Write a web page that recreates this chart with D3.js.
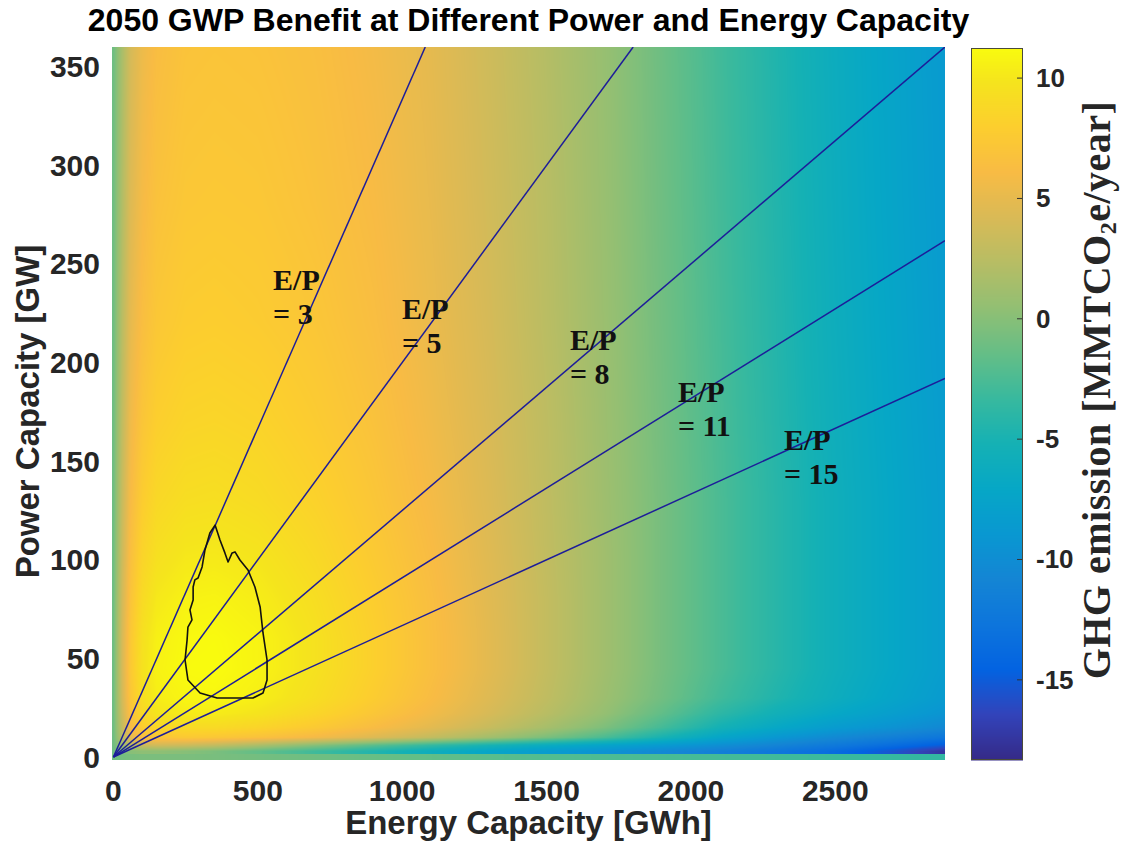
<!DOCTYPE html>
<html>
<head>
<meta charset="utf-8">
<script src="https://cdn.jsdelivr.net/npm/d3@7"></script>
<style>
  body { margin: 0; background: #fff; }
  svg { display: block; }
</style>
</head>
<body>
<svg id="chart" width="1127" height="848"></svg>
<script>
// ---- data ---------------------------------------------------------------
// Grid of energy capacities (GWh) and power capacities (GW)
const energyGrid = [0, 30, 60, 100, 150, 250, 350, 500, 700, 900, 1100, 1300, 1500, 1700, 1900, 2100, 2300, 2500, 2700, 2880];
const powerGrid = [0, 3, 6, 10, 15, 22, 30, 45, 60, 80, 100, 130, 170, 220, 280, 360];

// GHG emission benefit (MMTCO2e/year), one row per power capacity
const ghgRows = [
  [-1.0,-0.8,-0.6,-0.5,-0.5,-0.5,-0.6,-0.8,-1.0,-1.3,-1.6,-1.9,-2.2,-2.4,-2.6,-2.8,-3.0,-3.2,-3.4,-3.6],
  [-1.0,-0.5, 0.0, 0.3, 0.3, 0.0,-0.5,-1.5,-3.0,-4.5,-6.0,-7.3,-8.5,-9.5,-10.5,-11.5,-12.5,-13.7,-15.5,-17.5],
  [-1.0, 1.0, 2.5, 3.5, 3.8, 3.5, 3.0, 1.8, 0.0,-1.8,-3.5,-5.0,-6.3,-7.5,-8.6,-9.8,-11.0,-12.2,-13.5,-15.0],
  [-1.0, 2.5, 5.0, 6.5, 7.2, 7.5, 7.3, 6.8, 5.8, 4.5, 3.0, 1.3,-0.5,-2.5,-5.0,-7.3,-9.0,-10.4,-11.5,-12.5],
  [-1.0, 3.0, 6.0, 7.8, 8.6, 9.0, 9.0, 8.5, 7.5, 6.2, 4.8, 3.2, 1.5,-0.4,-2.8,-5.3,-7.0,-8.5,-9.5,-10.5],
  [-1.0, 3.5, 6.8, 8.8, 9.8,10.3,10.3, 9.8, 8.6, 7.2, 5.7, 4.1, 2.4, 0.6,-1.6,-3.9,-5.6,-7.0,-8.2,-9.3],
  [-1.0, 3.8, 7.2, 9.3,10.4,10.9,11.0,10.5, 9.3, 7.8, 6.2, 4.5, 2.8, 1.0,-0.9,-2.9,-4.6,-6.1,-7.4,-8.6],
  [-1.0, 4.0, 7.5, 9.6,10.7,11.2,11.3,10.8, 9.6, 8.1, 6.5, 4.8, 3.0, 1.2,-0.7,-2.5,-4.2,-5.8,-7.1,-8.3],
  [-1.0, 4.0, 7.4, 9.5,10.6,11.1,11.2,10.8, 9.6, 8.1, 6.5, 4.8, 3.0, 1.2,-0.7,-2.5,-4.2,-5.8,-7.1,-8.3],
  [-1.0, 3.8, 7.0, 9.0,10.1,10.7,10.8,10.4, 9.3, 7.9, 6.4, 4.7, 3.0, 1.2,-0.7,-2.5,-4.2,-5.8,-7.1,-8.3],
  [-1.0, 3.5, 6.6, 8.5, 9.5,10.1,10.2, 9.9, 8.9, 7.6, 6.2, 4.6, 2.9, 1.2,-0.7,-2.5,-4.2,-5.8,-7.1,-8.3],
  [-1.0, 3.2, 6.1, 7.8, 8.8, 9.3, 9.4, 9.1, 8.3, 7.2, 5.9, 4.4, 2.8, 1.1,-0.7,-2.5,-4.2,-5.8,-7.1,-8.3],
  [-1.0, 2.8, 5.6, 7.1, 8.0, 8.5, 8.6, 8.4, 7.7, 6.8, 5.6, 4.2, 2.7, 1.0,-0.8,-2.6,-4.3,-5.9,-7.2,-8.4],
  [-1.0, 2.4, 5.0, 6.4, 7.3, 7.8, 7.9, 7.7, 7.2, 6.4, 5.3, 4.0, 2.5, 0.9,-0.9,-2.7,-4.4,-6.0,-7.3,-8.5],
  [-1.0, 2.0, 4.5, 5.9, 6.8, 7.3, 7.4, 7.3, 6.8, 6.1, 5.1, 3.8, 2.4, 0.8,-1.0,-2.8,-4.5,-6.1,-7.4,-8.6],
  [-1.0, 1.6, 4.0, 5.4, 6.3, 6.9, 7.0, 6.9, 6.5, 5.8, 4.9, 3.6, 2.2, 0.7,-1.1,-2.9,-4.6,-6.2,-7.5,-8.7]
];

// Energy-to-power ratios drawn as rays from the origin
const ratioValues = [3, 5, 8, 11, 15];

// Boundary of the best-benefit region
const outlineEnergy = [352, 369, 386, 397, 411, 421, 438, 466, 490, 508, 518, 532, 532, 518, 483, 428, 359, 300, 258, 248, 255, 258, 272, 265, 276, 276, 282, 293, 307, 317, 334];
const outlinePower = [117.6, 110, 103.5, 98.9, 103.5, 104, 99.9, 94.8, 86.2, 76.1, 62.9, 49.2, 39.1, 32.5, 29.9, 29.9, 29.9, 32.5, 39.1, 49.2, 59.3, 65.9, 69.5, 74.6, 79.6, 86.2, 89.8, 90.8, 96.4, 105, 113.6];

const xTickValues = [0, 500, 1000, 1500, 2000, 2500];
const yTickValues = [0, 50, 100, 150, 200, 250, 300, 350];
const colorTickValues = [-15, -10, -5, 0, 5, 10];

const energyDomain = [-5, 2880];
const powerDomain = [-1.5, 360];
const colorDomain = [-18.33, 11.25];

// ---- layout ---------------------------------------------------------------
const plot = { left: 112, right: 945, top: 47, bottom: 760 };
const bar = { left: 971, right: 1023, top: 48, bottom: 760 };
// where each E/P caption sits (energy, power of the first text line's baseline)
const labelAt = [[553, 236.8], [999, 222.1], [1581, 206.4], [1955, 180], [2322, 155.7]];

const sansFont = "'Liberation Sans', Arial, Helvetica, sans-serif";
const serifFont = "'Liberation Serif', 'Times New Roman', serif";
const textColor = "#262626";

// Parula colour ramp
const parulaStops = ["#352a87", "#3243ba", "#0363e1", "#0d75dc", "#1485d4", "#0998d1", "#06a7c6", "#15b1b4",
  "#38b99e", "#65be86", "#92bf73", "#b7bd64", "#d9ba56", "#f8bb44", "#fcce2e", "#f5e41d", "#f9fb0e"];
const parulaPos = [0, 4, 8, 12, 16, 20, 24, 28, 32, 36, 40, 44, 48, 52, 56, 60, 63].map(i => i / 63);

const x = d3.scaleLinear().domain(energyDomain).range([plot.left, plot.right]);
const y = d3.scaleLinear().domain(powerDomain).range([plot.bottom, plot.top]);
const cy = d3.scaleLinear().domain(colorDomain).range([bar.bottom, bar.top]);
const color = d3.scaleLinear()
  .domain(parulaPos.map(t => colorDomain[0] + t * (colorDomain[1] - colorDomain[0])))
  .range(parulaStops)
  .interpolate(d3.interpolateRgb)
  .clamp(true);

const svg = d3.select("#chart");

// ---- heat map ---------------------------------------------------------------
function locate(grid, v) {
  if (v <= grid[0]) return [0, 0];
  const n = grid.length;
  if (v >= grid[n - 1]) return [n - 2, 1];
  const i = d3.bisectRight(grid, v) - 1;
  return [i, (v - grid[i]) / (grid[i + 1] - grid[i])];
}
function rowValue(row, e) {
  const [i, t] = locate(energyGrid, e);
  return row[i] * (1 - t) + row[i + 1] * t;
}
const upperPower = powerGrid.slice(1);
const upperRows = ghgRows.slice(1);
function ghgAt(e, p) {
  // the zero-power row is one flat cell of half-step height on either side of 0
  if (p < (powerGrid[1] - powerGrid[0]) / 2) return rowValue(ghgRows[0], e);
  const [j, t] = locate(upperPower, p);
  return rowValue(upperRows[j], e) * (1 - t) + rowValue(upperRows[j + 1], e) * t;
}

const lutSize = 1024;
const lut = d3.range(lutSize).map(k => d3.rgb(color(colorDomain[0] + (k / (lutSize - 1)) * (colorDomain[1] - colorDomain[0]))));
function lutColor(v) {
  let k = Math.round((v - colorDomain[0]) / (colorDomain[1] - colorDomain[0]) * (lutSize - 1));
  return lut[Math.max(0, Math.min(lutSize - 1, k))];
}

const W = plot.right - plot.left, H = plot.bottom - plot.top;
const canvas = document.createElement("canvas");
canvas.width = W; canvas.height = H;
const ctx = canvas.getContext("2d");
const img = ctx.createImageData(W, H);
for (let r = 0; r < H; r++) {
  const p = y.invert(plot.top + r + 0.5);
  for (let c = 0; c < W; c++) {
    const e = x.invert(plot.left + c + 0.5);
    const col = lutColor(ghgAt(e, p));
    const o = (r * W + c) * 4;
    img.data[o] = col.r; img.data[o + 1] = col.g; img.data[o + 2] = col.b; img.data[o + 3] = 255;
  }
}
ctx.putImageData(img, 0, 0);
svg.append("image")
  .attr("x", plot.left).attr("y", plot.top)
  .attr("width", W).attr("height", H)
  .attr("preserveAspectRatio", "none")
  .attr("href", canvas.toDataURL());

// ---- rays and outline -------------------------------------------------------
svg.append("clipPath").attr("id", "plotClip")
  .append("rect").attr("x", plot.left).attr("y", plot.top).attr("width", W).attr("height", H);

const line = d3.line().x(d => x(d[0])).y(d => y(d[1]));
const gLines = svg.append("g").attr("clip-path", "url(#plotClip)");
ratioValues.forEach(r => {
  const eEnd = Math.min(energyDomain[1], powerDomain[1] * r);
  gLines.append("path")
    .attr("d", line([[0, 0], [eEnd, eEnd / r]]))
    .attr("fill", "none")
    .attr("stroke", "#1d1d99")
    .attr("stroke-width", 1.5);
});

const outlinePts = outlineEnergy.map((e, i) => [e, outlinePower[i]]);
gLines.append("path")
  .attr("d", line(outlinePts) + "Z")
  .attr("fill", "none")
  .attr("stroke", "#111")
  .attr("stroke-width", 1.6)
  .attr("stroke-linejoin", "round");

// E/P captions
ratioValues.forEach((r, i) => {
  const t = svg.append("text")
    .attr("x", x(labelAt[i][0])).attr("y", y(labelAt[i][1]))
    .attr("font-family", serifFont).attr("font-weight", "bold")
    .attr("font-size", 30).attr("fill", "#111");
  t.append("tspan").attr("x", x(labelAt[i][0])).text("E/P");
  t.append("tspan").attr("x", x(labelAt[i][0])).attr("dy", 34).text("= " + r);
});

// ---- axes ---------------------------------------------------------------
svg.append("g").selectAll("text").data(xTickValues).join("text")
  .attr("x", d => x(d)).attr("y", 801)
  .attr("text-anchor", "middle")
  .attr("font-family", sansFont).attr("font-weight", "bold").attr("font-size", 30)
  .attr("fill", textColor)
  .text(d => d);

svg.append("g").selectAll("text").data(yTickValues).join("text")
  .attr("x", 100).attr("y", d => y(d) + 10.5)
  .attr("text-anchor", "end")
  .attr("font-family", sansFont).attr("font-weight", "bold").attr("font-size", 30)
  .attr("fill", textColor)
  .text(d => d);

svg.append("text")
  .attr("x", (plot.left + plot.right) / 2).attr("y", 834)
  .attr("text-anchor", "middle")
  .attr("font-family", sansFont).attr("font-weight", "bold").attr("font-size", 33)
  .attr("fill", textColor)
  .text("Energy Capacity [GWh]");

svg.append("text")
  .attr("transform", `translate(39,${(plot.top + plot.bottom) / 2 + 8}) rotate(-90)`)
  .attr("text-anchor", "middle")
  .attr("font-family", sansFont).attr("font-weight", "bold").attr("font-size", 33)
  .attr("fill", textColor)
  .text("Power Capacity [GW]");

svg.append("text")
  .attr("x", (plot.left + plot.right) / 2).attr("y", 31)
  .attr("text-anchor", "middle")
  .attr("font-family", sansFont).attr("font-weight", "bold").attr("font-size", 32)
  .attr("fill", "#000")
  .text("2050 GWP Benefit at Different Power and Energy Capacity");

// ---- colour bar ---------------------------------------------------------------
const barSteps = d3.range(bar.top, bar.bottom, 1);
svg.append("g").selectAll("rect").data(barSteps).join("rect")
  .attr("x", bar.left).attr("width", bar.right - bar.left)
  .attr("y", d => d).attr("height", 1.5)
  .attr("fill", d => color(cy.invert(d + 0.5)));
svg.append("rect")
  .attr("x", bar.left + 0.5).attr("y", bar.top + 0.5)
  .attr("width", bar.right - bar.left - 1).attr("height", bar.bottom - bar.top - 1)
  .attr("fill", "none").attr("stroke", "#4a4a3a").attr("stroke-width", 1);
svg.append("g").selectAll("line").data(colorTickValues).join("line")
  .attr("x1", bar.right - 6).attr("x2", bar.right - 1)
  .attr("y1", d => cy(d)).attr("y2", d => cy(d))
  .attr("stroke", "#333").attr("stroke-width", 1);
svg.append("g").selectAll("text").data(colorTickValues).join("text")
  .attr("x", 1036).attr("y", d => cy(d) + 9)
  .attr("font-family", sansFont).attr("font-weight", "bold").attr("font-size", 26)
  .attr("fill", textColor)
  .text(d => d);

const cbLabel = svg.append("text")
  .attr("transform", `translate(1110,390) rotate(-90)`)
  .attr("text-anchor", "middle")
  .attr("font-family", serifFont).attr("font-weight", "bold").attr("font-size", 40)
  .attr("letter-spacing", 0.5)
  .attr("fill", textColor);
cbLabel.append("tspan").text("GHG emission [MMTCO");
cbLabel.append("tspan").attr("font-size", 24).attr("dy", 6).text("2");
cbLabel.append("tspan").attr("dy", -6).text("e/year]");
</script>
</body>
</html>
